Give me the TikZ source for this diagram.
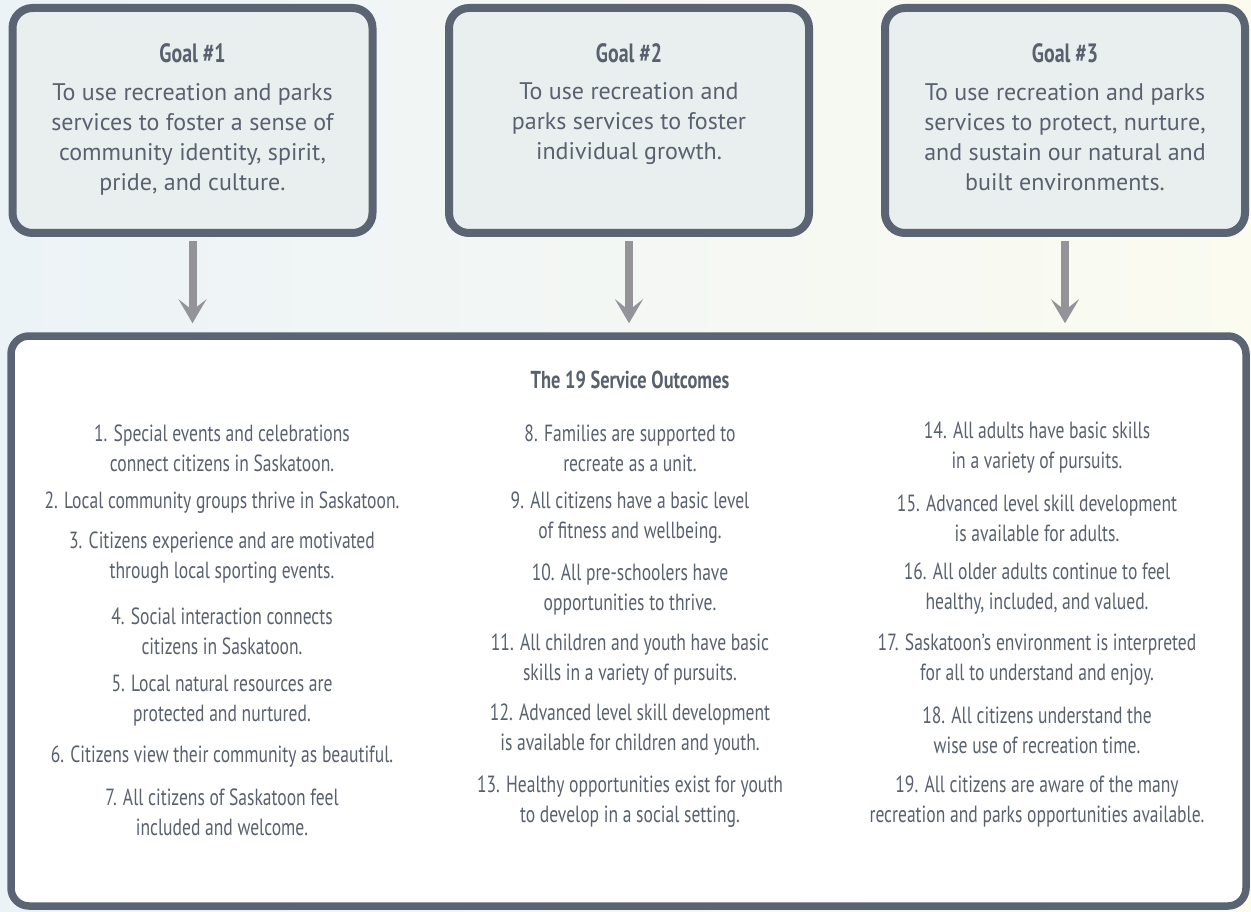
\documentclass[tikz,border=0pt]{standalone}
\usepackage{fontspec}
\setmainfont{PT Sans}
\newfontfamily\condfont[FakeStretch=0.75]{PT Sans}
\usetikzlibrary{arrows.meta}
\definecolor{bord}{HTML}{5A6473}
\definecolor{txt}{HTML}{59616F}
\definecolor{goalfill}{HTML}{E9EEEF}
\definecolor{arrowgray}{HTML}{939399}
\definecolor{bgL}{HTML}{ECF3F7}
\definecolor{bgM}{HTML}{F8FAF5}
\definecolor{bgR}{HTML}{FBFBF0}
\begin{document}
\begin{tikzpicture}[x=1pt,y=-1pt,
  goalbox/.style={draw=bord, line width=8pt, fill=goalfill, rounded corners=20pt,
    minimum width=360pt, minimum height=225pt, inner sep=0pt},
  outbox/.style={draw=bord, line width=7.5pt, fill=white, rounded corners=18pt,
    minimum width=1235pt, minimum height=570pt, inner sep=0pt},
  goaltitle/.style={text=txt, font=\condfont\bfseries\fontsize{26.5}{30}\selectfont, inner sep=0pt},
  goaltext/.style={text=txt, align=center, font=\fontsize{24}{30}\selectfont, inner sep=0pt},
  outtitle/.style={text=txt, font=\condfont\bfseries\fontsize{24.5}{30}\selectfont, inner sep=0pt},
  outtext/.style={text=txt, align=center, font=\condfont\fontsize{23.4}{30}\selectfont, inner sep=0pt},
  flow/.style={draw=arrowgray, line width=8pt, shorten <=4pt, shorten >=9pt,
    -{Stealth[length=24pt,width=28pt,inset=11pt]}},
]
\useasboundingbox (0,0) rectangle (1251,912);
\fill[left color=bgL, middle color=bgM, right color=bgR] (0,0) rectangle (1251,912);

% goal boxes
\node[goalbox] (g1) at (192.5,120.5) {};
\node[goalbox] (g2) at (629,120.5) {};
\node[goalbox] (g3) at (1065,120.5) {};

\node[goaltitle] (g1t) at (192.5,53) {Goal \#1};
\node[goaltitle] (g2t) at (629,53) {Goal \#2};
\node[goaltitle] (g3t) at (1065,53) {Goal \#3};

\node[goaltext] (g1b) at (192.5,139) {To use recreation and parks\\services to foster a sense of\\community identity, spirit,\\pride, and culture.};
\node[goaltext] (g2b) at (629,124) {To use recreation and\\parks services to foster\\individual growth.};
\node[goaltext] (g3b) at (1065,137) {To use recreation and parks\\services to protect, nurture,\\and sustain our natural and\\built environments.};

% outcomes box
\node[outbox] (ob) at (628.5,621) {};

\draw[flow] (g1.south) -- (g1.south |- ob.north);
\draw[flow] (g2.south) -- (g2.south |- ob.north);
\draw[flow] (g3.south) -- (g3.south |- ob.north);

\node[outtitle] (obt) at (630,380) {The 19 Service Outcomes};

% column 1
\node[outtext] (o1) at (222,448) {1. Special events and celebrations\\connect citizens in Saskatoon.};
\node[outtext] (o2) at (222,503) {2. Local community groups thrive in Saskatoon.};
\node[outtext] (o3) at (222,558) {3. Citizens experience and are motivated\\through local sporting events.};
\node[outtext] (o4) at (222,631) {4. Social interaction connects\\citizens in Saskatoon.};
\node[outtext] (o5) at (222,701) {5. Local natural resources are\\protected and nurtured.};
\node[outtext] (o6) at (222,757) {6. Citizens view their community as beautiful.};
\node[outtext] (o7) at (222,812) {7. All citizens of Saskatoon feel\\included and welcome.};

% column 2
\node[outtext] (o8) at (630,448) {8. Families are supported to\\recreate as a unit.};
\node[outtext] (o9) at (630,518) {9. All citizens have a basic level\\of fitness and wellbeing.};
\node[outtext] (o10) at (630,590) {10. All pre-schoolers have\\opportunities to thrive.};
\node[outtext] (o11) at (630,660) {11. All children and youth have basic\\skills in a variety of pursuits.};
\node[outtext] (o12) at (630,730) {12. Advanced level skill development\\is available for children and youth.};
\node[outtext] (o13) at (630,802) {13. Healthy opportunities exist for youth\\to develop in a social setting.};

% column 3
\node[outtext] (o14) at (1037,448) {14. All adults have basic skills\\in a variety of pursuits.};
\node[outtext] (o15) at (1037,518) {15. Advanced level skill development\\is available for adults.};
\node[outtext] (o16) at (1037,589) {16. All older adults continue to feel\\healthy, included, and valued.};
\node[outtext] (o17) at (1037,660) {17. Saskatoon’s environment is interpreted\\for all to understand and enjoy.};
\node[outtext] (o18) at (1037,730) {18. All citizens understand the\\wise use of recreation time.};
\node[outtext] (o19) at (1037,802) {19. All citizens are aware of the many\\recreation and parks opportunities available.};
\end{tikzpicture}
\end{document}
